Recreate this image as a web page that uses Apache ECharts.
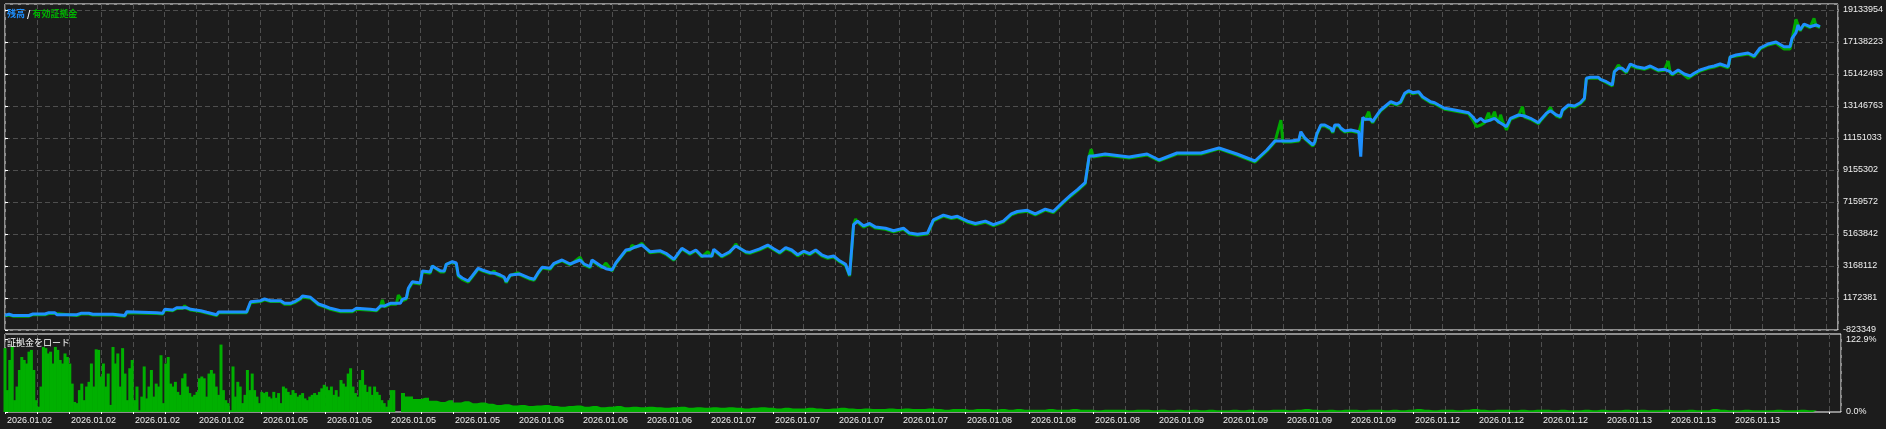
<!DOCTYPE html>
<html><head><meta charset="utf-8">
<script src="https://cdn.jsdelivr.net/npm/echarts@6/dist/echarts.min.js"></script>
<style>html,body{margin:0;padding:0;background:#1c1c1c;}#c{width:1886px;height:429px;}</style>
</head><body><div id="c"></div><script>
// x tick labels (one every second grid line)
const xLabels = ['2026.01.02','2026.01.02','2026.01.02','2026.01.02','2026.01.05','2026.01.05','2026.01.05','2026.01.05','2026.01.06','2026.01.06','2026.01.06','2026.01.07','2026.01.07','2026.01.07','2026.01.07','2026.01.08','2026.01.08','2026.01.08','2026.01.09','2026.01.09','2026.01.09','2026.01.09','2026.01.12','2026.01.12','2026.01.12','2026.01.13','2026.01.13','2026.01.13'];
// y tick labels of the balance panel
const yTicks = ['-823349','1172381','3168112','5163842','7159572','9155302','11151033','13146763','15142493','17138223','19133954'];
const marginTicks = ['0.0%','122.9%'];

// balance: [time index, value in thousands]
const balancePts = [[0,100],[2,160],[4,80],[12,80],[14,175],[20,175],[22,256],[25,256],[26,131],[36,131],[38,218],[42,218],[43,281],[44,156],[54,156],[60,80],[61,318],[76,256],[79,218],[80,468],[84,424],[86,567],[91,567],[93,468],[98,380],[101,281],[106,131],[107,299],[121,299],[123,942],[128,1004],[130,1110],[133,1004],[134,904],[138,1004],[140,842],[143,842],[145,942],[148,1154],[149,1297],[153,1216],[154,1154],[157,798],[160,673],[163,530],[168,380],[174,380],[176,530],[183,468],[186,424],[188,673],[190,673],[193,842],[198,842],[199,1091],[201,1172],[202,1777],[204,2189],[208,2108],[209,2856],[213,2794],[214,3168],[218,2875],[220,2856],[221,3274],[224,3436],[226,3355],[227,2607],[229,2420],[232,2233],[234,2544],[237,3025],[239,2919],[243,2750],[246,2700],[248,2607],[250,2482],[251,2189],[253,2607],[258,2669],[263,2401],[265,2340],[267,2750],[269,3087],[273,3025],[275,3337],[279,3542],[283,3293],[288,3542],[290,3293],[293,3124],[294,3542],[299,3124],[301,3000],[304,2919],[306,3374],[311,4166],[313,4210],[316,4372],[319,4478],[323,4060],[328,4122],[331,3960],[335,3586],[339,4272],[343,3960],[346,4166],[349,3792],[354,3792],[355,4210],[359,3792],[363,4060],[366,4415],[371,4060],[373,4017],[378,4241],[382,4472],[385,4241],[388,4017],[391,4316],[394,4166],[397,3867],[400,4091],[403,3942],[406,4166],[409,3867],[412,3717],[415,3792],[418,3492],[421,3268],[423,2600],[425,5744],[427,5969],[430,5669],[433,5819],[436,5594],[441,5520],[445,5370],[450,5520],[453,5220],[457,5146],[462,5220],[465,6043],[470,6343],[474,6193],[477,6268],[482,5969],[486,5819],[491,5969],[495,5744],[500,5969],[504,6418],[507,6568],[512,6642],[516,6418],[521,6717],[525,6568],[530,7166],[534,7615],[537,7915],[541,8364],[543,10029],[545,10029],[551,10153],[563,9966],[572,10153],[578,9779],[587,10216],[599,10216],[608,10527],[617,10153],[626,9717],[632,10403],[636,10964],[644,10964],[648,11026],[649,11544],[651,11151],[655,10715],[656,10920],[657,11401],[659,11962],[661,11962],[664,11756],[665,11544],[666,11962],[668,11962],[669,11775],[671,11588],[674,11650],[675,11756],[678,11544],[679,9985],[680,12442],[681,12317],[684,12317],[685,12168],[686,12380],[688,12729],[689,12897],[692,13209],[694,13415],[697,13272],[699,13415],[701,13939],[703,14101],[705,13976],[708,14039],[710,13727],[714,13415],[716,13353],[718,13209],[721,13003],[724,12941],[728,12854],[729,12941],[733,12729],[735,12480],[737,12168],[739,12380],[741,12168],[744,12274],[746,12380],[748,12168],[749,12274],[752,11856],[754,12380],[758,12586],[761,12523],[764,12380],[768,12105],[769,12274],[772,12692],[774,12854],[777,12586],[779,12480],[780,12897],[783,13209],[786,13147],[789,13353],[791,13627],[792,14874],[794,14937],[798,14937],[799,14812],[802,14662],[805,14457],[806,15286],[808,15498],[810,15498],[812,15286],[814,15766],[817,15598],[821,15498],[824,15642],[828,15392],[831,15436],[834,15286],[835,15143],[838,15392],[841,15143],[844,15018],[846,15186],[849,15392],[853,15560],[856,15642],[859,15766],[863,15598],[864,16203],[867,16328],[873,16452],[876,16265],[879,16764],[883,17014],[887,17138],[888,17095],[891,16845],[894,16845],[895,17369],[896,17469],[897,17718],[898,18199],[899,17887],[901,18261],[904,18093],[905,18055],[907,18199],[909,18093]];

// equity: [time index, value in thousands]
const equityPts = [[0,60],[2,110],[4,40],[12,40],[14,130],[20,130],[22,200],[25,200],[26,80],[36,80],[38,170],[42,170],[43,230],[44,110],[54,110],[60,40],[61,260],[76,200],[79,170],[80,420],[84,380],[86,520],[89,520],[90,690],[91,520],[93,420],[98,330],[101,230],[106,80],[107,250],[121,250],[123,880],[128,950],[130,1060],[133,950],[134,850],[138,950],[140,790],[143,790],[145,880],[148,1100],[149,1240],[153,1160],[154,1100],[157,740],[160,620],[163,470],[168,320],[174,320],[176,470],[183,410],[186,370],[188,620],[189,1047],[190,620],[193,780],[196,780],[197,1360],[198,1300],[199,1000],[201,1100],[202,1700],[204,2120],[208,2040],[209,2800],[213,2720],[214,3168],[218,2800],[220,2800],[221,3274],[224,3400],[226,3300],[227,2540],[229,2340],[232,2160],[234,2480],[237,2980],[239,2860],[243,2700],[245,2850],[246,2650],[248,2540],[250,2420],[251,2130],[253,2560],[257,2750],[258,2620],[263,2340],[265,2280],[267,2700],[269,3040],[273,2960],[275,3290],[279,3500],[283,3240],[288,3711],[290,3240],[293,3060],[294,3500],[299,3060],[301,3350],[304,2860],[306,3330],[311,4120],[313,4150],[314,4450],[316,4330],[319,4584],[320,4420],[323,4000],[328,4070],[331,3900],[335,3530],[339,4230],[343,3900],[346,4120],[349,3740],[352,4060],[354,3740],[355,4160],[359,3740],[363,4000],[366,4540],[367,4370],[371,4000],[373,3960],[378,4180],[382,4410],[385,4180],[388,3960],[391,4250],[394,4100],[397,3800],[400,4030],[403,3880],[406,4100],[409,3800],[412,3650],[415,3730],[418,3430],[421,3200],[423,2540],[425,5744],[426,6100],[427,5900],[430,5600],[433,5760],[436,5530],[441,5460],[445,5300],[450,5460],[453,5160],[457,5080],[462,5160],[465,5980],[470,6280],[474,6130],[477,6200],[482,5900],[486,5760],[491,5900],[495,5680],[500,5900],[504,6350],[507,6500],[512,6580],[516,6350],[521,6650],[525,6500],[530,7100],[534,7550],[537,7850],[541,8300],[543,10029],[544,10450],[545,9970],[551,10090],[563,9900],[572,10090],[578,9720],[587,10150],[599,10150],[608,10470],[617,10090],[626,9650],[632,10340],[636,10900],[639,12262],[640,10900],[644,10900],[648,10960],[649,11480],[651,11090],[655,10650],[656,10860],[657,11340],[659,11900],[661,11900],[664,11690],[665,11480],[666,11900],[668,11900],[669,11710],[671,11520],[674,11590],[675,11690],[678,11480],[680,12380],[681,12250],[683,12790],[684,12250],[685,12100],[686,12320],[688,12670],[689,12840],[692,13150],[694,13350],[697,13210],[699,13350],[701,13880],[703,14040],[705,13910],[708,13980],[710,13660],[714,13350],[716,13290],[718,13150],[721,12940],[724,12880],[728,12790],[729,12880],[733,12670],[735,12300],[737,11856],[739,11950],[741,12100],[743,12729],[744,12210],[746,12790],[747,12320],[748,12100],[749,12600],[750,12210],[752,11650],[754,12320],[758,12520],[760,13103],[761,12460],[764,12320],[768,12040],[769,12210],[772,12630],[774,13066],[775,12790],[777,12520],[779,12420],[780,12840],[783,13150],[786,13080],[789,13290],[791,13560],[792,14874],[798,14874],[799,14750],[802,14600],[805,14390],[806,15286],[808,15704],[810,15430],[812,15220],[814,15700],[817,15530],[821,15430],[824,15580],[828,15330],[831,15370],[833,15954],[834,15220],[835,15080],[838,15330],[841,15080],[843,14874],[844,14950],[846,15120],[849,15330],[853,15500],[856,15580],[859,15700],[863,15530],[864,16203],[867,16260],[873,16390],[876,16200],[879,16700],[883,16950],[887,17080],[888,17030],[891,16700],[894,16700],[895,17300],[896,17400],[897,18554],[898,18554],[899,17830],[901,18200],[904,18030],[905,18000],[906,18616],[907,18140],[909,18030]];

// margin load (%), early dense part and later part
const marginHead = [108,37,88,110,20,43,71,93,88,82,102,105,71,20,9,43,110,108,99,102,82,110,105,88,82,99,93,82,48,17,15,37,48,20,43,51,82,43,106,105,60,82,43,65,12,110,82,99,43,108,65,20,74,88,20,43,3,26,77,23,43,71,26,48,43,96,15,82,93,48,43,51,34,29,57,65,43,32,26,29,34,57,60,57,26,65,71,65,43,29,114,37,20,15,3,77,26,51,43,15,29,71,37,65,37,26,15,34,32,34,26,23,34,24,32,15,43,40,34,29,37,32,26,29,32,23,20,26,29,32,29,34,40,46,43,37,43,29,37,26,54,48,43,65,74,43,32,26,54,71,46,34,43,29,43,34,29,20,15,9,20,37,37];
const marginTail = [32,26,22,24,19,17,20,16,18,15,16,14,12,13,11,12,10,11,12,10,9,10,11,9,10,8,9,10,8,9,8,9,8,7,8,9,7,8,7,8,7,8,7,6,7,8,7,6,7,6,6,7,6,5,6,7,6,5,6,5,5,6,5,6,5,5,6,5,4,5,5,4,5,5,4,5,4,5,4,4,4,5,4,4,5,4,4,3,4,4,4,3,4,4,3,4,3,4,3,4,3,4,3,3,4,3,4,3,3,4,4,3,4,5,4,3,4,3,4,4,3,4,4,3,4,3,4,5,4,3,4,4,3,4,5,4,3,4,4,3,4,3,4,4,3,4,3,3,4,3,4,3,3,4,3,4,3,3,4,3,3,4,3,3,5,4,3,3,4,3,3,3,4,3,3,4,3,3];

const Y_MIN = -823349, Y_STEP = 1995730.27, Y_MAX = Y_MIN + Y_STEP * 10.1875;
const X_MAX = 918, X_STEP = 16;
const HEAD_STEP = 1.2, TAIL_START = 198, TAIL_STEP = 4;
const M_MAX = 131.9, M_STEP = 122.9;

const balanceData = balancePts.map(p => [p[0], p[1] * 1000]);
const equityData = equityPts.map(p => [p[0], p[1] * 1000]);
const headData = marginHead.map((v, i) => [i * HEAD_STEP, v]);
const tailData = marginTail.map((v, i) => [TAIL_START + i * TAIL_STEP, v]);

const FONT = 'Liberation Sans';
const CJK = 'Noto Sans CJK JP';
const gridLine = {show: true, lineStyle: {color: '#4e4e4e', width: 1, type: [5, 3]}};

const chart = echarts.init(document.getElementById('c'), null, {renderer: 'canvas'});
chart.setOption({
  backgroundColor: '#1c1c1c',
  animation: false,
  title: [
    {text: '{a|残高}{s| / }{b|有効証拠金}', left: 7, top: 8, padding: 0,
     textStyle: {rich: {
       a: {color: '#1e90ff', fontSize: 9, fontFamily: CJK, lineHeight: 11},
       s: {color: '#ffffff', fontSize: 9, fontFamily: CJK, lineHeight: 11},
       b: {color: '#00b000', fontSize: 9, fontFamily: CJK, lineHeight: 11}}}},
    {text: '証拠金をロード', left: 7, top: 337, padding: 0,
     textStyle: {color: '#ffffff', fontSize: 9, fontWeight: 'normal', fontFamily: CJK, lineHeight: 11}}
  ],
  grid: [
    {left: 5, right: 45, top: 4, bottom: 99, show: true, borderColor: '#ffffff', borderWidth: 1},
    {left: 5, right: 45, top: 334, bottom: 17, show: true, borderColor: '#ffffff', borderWidth: 1}
  ],
  xAxis: [
    {gridIndex: 0, type: 'value', min: 0, max: X_MAX, interval: X_STEP,
     axisLine: {show: false}, axisTick: {show: false}, axisLabel: {show: false}, splitLine: gridLine},
    {gridIndex: 1, type: 'value', min: 0, max: X_MAX, interval: X_STEP,
     axisLine: {show: false},
     axisTick: {show: true, length: 2, lineStyle: {color: '#ffffff'}},
     axisLabel: {show: true, color: '#f0f0f0', fontSize: 9, fontFamily: FONT, align: 'left', margin: 4,
       padding: [0, 0, 0, 2], showMaxLabel: false,
       formatter: v => (Math.round(v) % (X_STEP * 2) === 0 && xLabels[Math.round(v) / (X_STEP * 2)]) ? xLabels[Math.round(v) / (X_STEP * 2)] : ''},
     splitLine: gridLine}
  ],
  yAxis: [
    {gridIndex: 0, type: 'value', position: 'right', min: Y_MIN, max: Y_MAX, interval: Y_STEP,
     axisLine: {show: false},
     axisTick: {show: true, length: 3, lineStyle: {color: '#ffffff'}},
     axisLabel: {color: '#f0f0f0', fontSize: 9, fontFamily: FONT, margin: 5, showMaxLabel: false,
       padding: [3, 0, 0, 0],
       formatter: v => yTicks[Math.round((v - Y_MIN) / Y_STEP)] || ''},
     splitLine: gridLine},
    {gridIndex: 1, type: 'value', position: 'right', min: 0, max: M_MAX, interval: M_STEP,
     axisLine: {show: false},
     axisTick: {show: true, length: 3, lineStyle: {color: '#ffffff'}},
     axisLabel: {color: '#f0f0f0', fontSize: 9, fontFamily: FONT, margin: 5, showMaxLabel: false,
       formatter: v => marginTicks[Math.round(v / M_STEP)] || ''},
     splitLine: {show: false}}
  ],
  series: [
    {name: '有効証拠金', type: 'line', xAxisIndex: 0, yAxisIndex: 0, data: equityData, symbol: 'none',
     lineStyle: {color: '#00a800', width: 3}, z: 2},
    {name: '残高', type: 'line', xAxisIndex: 0, yAxisIndex: 0, data: balanceData, symbol: 'none',
     lineStyle: {color: '#1e90ff', width: 3}, z: 3},
    {name: '証拠金をロード', type: 'bar', xAxisIndex: 1, yAxisIndex: 1, data: headData, barWidth: 3,
     itemStyle: {color: '#00b000'}},
    {name: '証拠金をロード2', type: 'line', xAxisIndex: 1, yAxisIndex: 1, data: tailData, symbol: 'none',
     step: 'middle', lineStyle: {width: 0}, areaStyle: {color: '#00b000', opacity: 1}}
  ]
});
</script></body></html>
